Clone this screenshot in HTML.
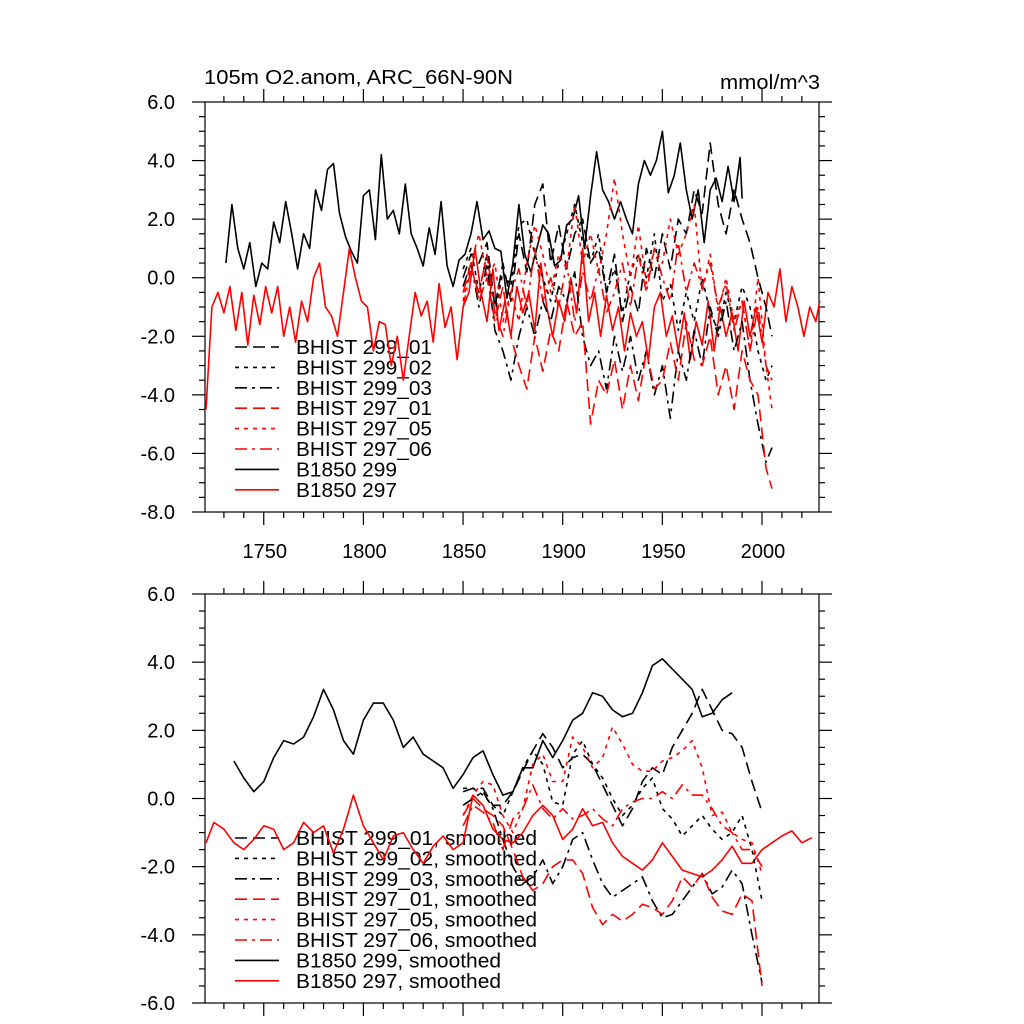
<!DOCTYPE html>
<html><head><meta charset="utf-8"><style>
body{margin:0;background:#fff;}
svg{display:block;font-family:"Liberation Sans",sans-serif;}
</style></head><body>
<svg id="chart" width="1024" height="1024" viewBox="0 0 1024 1024" xmlns="http://www.w3.org/2000/svg">
<text x="204" y="84" font-size="20" textLength="309" lengthAdjust="spacingAndGlyphs">105m O2.anom, ARC_66N-90N</text>
<text x="720" y="89" font-size="20" textLength="100" lengthAdjust="spacingAndGlyphs">mmol/m^3</text>
</svg>
<script>
// ---------- data ----------
const topYTicks = [6, 4, 2, 0, -2, -4, -6, -8];
const topYTickLabels = ["6.0", "4.0", "2.0", "0.0", "-2.0", "-4.0", "-6.0", "-8.0"];
const botYTicks = [6, 4, 2, 0, -2, -4, -6];
const botYTickLabels = ["6.0", "4.0", "2.0", "0.0", "-2.0", "-4.0", "-6.0"];
const xTicks = [1750, 1800, 1850, 1900, 1950, 2000];
const xTickLabels = ["1750", "1800", "1850", "1900", "1950", "2000"];

// raw annual-ish series (top panel)
const years299 = [1731,1734,1737,1740,1743,1746,1749,1752,1755,1758,1761,1764,1767,1770,1773,1776,1779,1782,1785,1788,1791,1794,1797,1800,1803,1806,1809,1812,1815,1818,1821,1824,1827,1830,1833,1836,1839,1842,1845,1848,1851,1854,1857,1860,1863,1866,1869,1872,1875,1878,1881,1884,1887,1890,1893,1896,1899,1902,1905,1908,1911,1914,1917,1920,1923,1926,1929,1932,1935,1938,1941,1944,1947,1950,1953,1956,1959,1962,1965,1968,1971,1974,1977,1980,1983,1986,1989,1990];
const b1850_299 = [0.5,2.5,1.0,0.3,1.2,-0.3,0.5,0.3,1.9,1.2,2.6,1.5,0.3,1.5,1.0,3.0,2.3,3.7,3.9,2.2,1.4,0.9,0.5,2.8,3.0,1.3,4.2,2.0,2.3,1.5,3.2,1.5,1.0,0.4,1.7,0.8,2.6,0.4,-0.3,0.6,0.8,1.5,2.6,1.3,1.6,1.0,0.9,-0.7,0.5,2.5,0.8,0.2,1.0,1.8,1.5,0.4,0.6,1.8,2.0,2.8,1.0,2.8,4.3,3.0,2.6,2.0,2.6,2.0,1.5,3.2,4.0,3.5,4.0,5.0,2.9,3.5,4.6,3.0,2.0,3.0,1.2,3.0,3.4,2.6,3.8,2.6,4.1,2.7];
const years297 = [1721,1724,1727,1730,1733,1736,1739,1742,1745,1748,1751,1754,1757,1760,1763,1766,1769,1772,1775,1778,1781,1784,1787,1790,1793,1796,1799,1802,1805,1808,1811,1814,1817,1820,1823,1826,1829,1832,1835,1838,1841,1844,1847,1850,1853,1856,1859,1862,1865,1868,1871,1874,1877,1880,1883,1886,1889,1892,1895,1898,1901,1904,1907,1910,1913,1916,1919,1922,1925,1928,1931,1934,1937,1940,1943,1946,1949,1952,1955,1958,1961,1964,1967,1970,1973,1976,1979,1982,1985,1988,1991,1994,1997,2000,2003,2006,2009,2012,2015,2018,2021,2024,2027,2029];
const b1850_297 = [-4.5,-1.0,-0.5,-1.2,-0.3,-1.8,-0.5,-2.3,-0.6,-1.6,-0.3,-1.2,-0.3,-2.0,-1.0,-2.2,-0.8,-1.5,0.0,0.5,-1.0,-1.3,-2.0,-0.5,1.0,0.0,-0.8,-1.0,-2.5,-1.5,-1.6,-3.0,-2.0,-3.5,-2.0,-0.5,-1.3,-0.8,-2.2,-0.2,-1.7,-1.0,-2.8,-1.0,-0.5,1.0,-0.5,-1.5,0.3,-1.8,-0.8,-2.0,-0.3,-1.2,-0.5,-1.8,0.5,-1.0,-2.0,-0.8,-1.5,0.0,-1.2,1.0,-1.5,-0.5,-2.0,-0.6,-1.8,-1.0,-2.5,-1.2,-2.0,-1.5,-2.8,-1.0,-0.5,-2.0,-1.3,-2.5,-1.2,-2.8,-1.5,-2.3,-0.8,-2.5,-1.0,-2.0,-1.2,-2.5,-0.8,-2.0,-1.0,-2.2,-0.5,-1.0,0.3,-1.5,-0.3,-1.0,-2.0,-1.0,-1.5,-0.8];
const yearsHist = [1850,1854,1858,1862,1866,1870,1874,1878,1882,1886,1890,1894,1898,1902,1906,1910,1914,1918,1922,1926,1930,1934,1938,1942,1946,1950,1954,1958,1962,1966,1970,1974,1978,1982,1986,1990,1994,1998,2002,2005];
const hist299_01 = [0.0,0.8,0.5,1.2,-1.0,0.5,-0.8,1.5,0.2,2.5,3.2,0.5,1.8,0.3,1.5,2.0,0.5,1.0,-0.5,0.8,-1.5,-0.3,-1.2,1.0,0.0,1.5,0.3,2.0,1.5,3.0,2.2,4.6,2.5,1.5,3.0,2.0,1.2,0.0,-1.0,-2.0];
const hist299_02 = [0.3,1.0,-0.5,0.8,-1.2,0.2,-0.3,1.8,2.0,0.8,0.0,-0.8,0.5,1.5,2.5,1.2,0.5,1.5,-0.5,0.3,-1.2,0.2,0.8,0.0,1.5,-0.8,-0.2,-1.8,-0.5,-1.5,0.0,-1.2,-1.8,-0.5,-1.5,-0.3,-1.0,-2.5,-3.5,-3.0];
const hist299_03 = [-0.3,0.5,-1.0,0.5,-1.8,-2.5,-3.5,-2.0,-1.0,-2.0,-0.8,-1.5,-0.3,-0.8,0.2,-2.0,-3.0,-2.5,-3.8,-2.0,-3.2,-2.0,-3.5,-2.5,-4.0,-3.0,-4.8,-2.5,-3.5,-1.8,-3.0,-1.0,-2.0,-0.8,-2.5,-1.5,-3.5,-5.0,-6.3,-5.8];
const hist297_01 = [-0.5,0.5,-0.8,0.0,-1.5,-0.3,-2.0,-3.0,-3.8,-2.0,-3.2,-1.8,-2.5,-0.8,-2.0,-1.5,-5.0,-3.5,-4.0,-2.8,-4.5,-3.0,-4.2,-2.5,-3.8,-3.5,-2.2,-3.5,-1.5,-2.8,-3.0,-2.0,-4.0,-3.0,-4.5,-2.5,-3.5,-4.0,-6.5,-7.2];
const hist297_05 = [-0.8,0.5,1.5,0.0,0.5,-1.5,-0.5,-1.5,0.5,1.8,0.8,-0.5,0.8,0.3,2.5,0.5,1.5,0.2,1.5,3.4,1.5,0.0,1.8,-0.2,1.0,0.5,2.0,0.8,1.5,2.5,-0.5,0.8,-1.2,0.0,-1.5,-0.8,-2.5,0.0,-3.0,-4.5];
const hist297_06 = [-1.0,0.3,-0.5,0.8,-1.2,-2.0,-0.5,0.3,-1.0,1.0,-0.8,0.0,-1.0,0.5,-1.5,0.2,-0.8,0.3,-1.2,-0.5,0.5,-1.0,0.8,-0.5,1.0,0.0,-0.8,1.2,-0.5,0.5,-0.3,0.5,-1.0,-0.2,-1.8,-0.8,-2.5,-1.0,-3.0,-3.5];

// smoothed series (bottom panel)
const yearsSmHist = [1850,1855,1860,1865,1870,1875,1880,1885,1890,1895,1900,1905,1910,1915,1920,1925,1930,1935,1940,1945,1950,1955,1960,1965,1970,1975,1980,1985,1990,1995,2000];
const sm299_01 = [0.2,0.3,0.3,-0.2,-0.2,0.2,0.8,1.4,1.9,1.5,0.9,1.2,1.3,1.0,0.4,-0.2,-0.8,-0.3,0.5,0.9,0.7,1.5,2.0,2.5,3.2,2.6,2.0,1.9,1.5,0.5,-0.4];
const sm299_02 = [0.3,0.3,0.1,-0.2,-0.5,0.2,0.9,1.4,1.0,-0.1,-0.2,1.3,1.7,1.0,0.6,0.0,-0.5,-0.2,0.3,0.6,-0.3,-0.6,-1.1,-0.8,-0.5,-0.9,-1.2,-1.0,-0.5,-1.5,-3.0];
const sm299_03 = [-0.2,0.0,0.2,-0.3,-1.2,-2.0,-2.5,-2.3,-1.8,-2.5,-2.0,-1.2,-1.0,-1.8,-2.5,-2.9,-2.7,-2.5,-2.3,-3.0,-3.5,-3.4,-3.0,-2.6,-2.2,-2.8,-2.6,-2.1,-2.5,-4.0,-5.4];
const sm297_01 = [-0.5,0.0,-0.3,-0.5,-0.8,-1.5,-2.3,-2.7,-2.5,-2.0,-1.8,-1.8,-2.2,-3.2,-3.7,-3.4,-3.6,-3.4,-3.1,-3.2,-3.4,-3.0,-2.3,-2.6,-2.2,-2.9,-3.3,-3.4,-2.8,-3.0,-5.5];
const sm297_05 = [-0.5,0.1,0.5,0.4,-0.5,-1.0,-0.3,1.0,1.3,0.5,0.5,1.8,1.5,0.9,1.2,2.1,1.6,1.0,0.8,0.8,1.1,1.2,1.4,1.7,0.9,-0.5,-0.4,-1.0,-1.2,-1.3,-2.2];
const sm297_06 = [-0.8,-0.2,-0.4,-0.7,-1.5,-0.6,-0.3,0.4,-0.3,-0.6,-0.3,-0.6,-0.5,-0.3,-0.6,-0.8,-0.3,-0.1,0.0,0.0,0.2,0.0,0.4,0.1,0.1,-0.3,-0.8,-1.0,-1.5,-1.5,-2.0];
const yearsSm299 = [1735,1740,1745,1750,1755,1760,1765,1770,1775,1780,1785,1790,1795,1800,1805,1810,1815,1820,1825,1830,1835,1840,1845,1850,1855,1860,1865,1870,1875,1880,1885,1890,1895,1900,1905,1910,1915,1920,1925,1930,1935,1940,1945,1950,1955,1960,1965,1970,1975,1980,1985];
const smB1850_299 = [1.1,0.6,0.2,0.5,1.2,1.7,1.6,1.8,2.4,3.2,2.6,1.7,1.3,2.3,2.8,2.8,2.3,1.5,1.8,1.3,1.1,0.9,0.3,0.7,1.2,1.4,0.7,0.1,0.2,0.9,0.9,1.7,1.2,1.7,2.3,2.5,3.1,3.0,2.6,2.4,2.5,3.1,3.9,4.1,3.8,3.5,3.2,2.4,2.5,2.9,3.1];
const yearsSm297 = [1721,1725,1730,1735,1740,1745,1750,1755,1760,1765,1770,1775,1780,1785,1790,1795,1800,1805,1810,1815,1820,1825,1830,1835,1840,1845,1850,1855,1860,1865,1870,1875,1880,1885,1890,1895,1900,1905,1910,1915,1920,1925,1930,1935,1940,1945,1950,1955,1960,1965,1970,1975,1980,1985,1990,1995,2000,2005,2010,2015,2020,2025];
const smB1850_297 = [-1.3,-0.7,-0.9,-1.3,-1.5,-1.2,-0.8,-0.9,-1.5,-1.3,-0.7,-1.0,-0.8,-1.6,-0.9,0.1,-0.8,-1.3,-1.8,-1.1,-1.0,-1.5,-1.9,-1.4,-1.1,-1.5,-1.3,0.1,-0.2,-0.9,-1.2,-1.3,-1.0,-0.5,-0.2,-0.5,-1.2,-0.9,-0.3,-0.8,-0.7,-1.3,-1.7,-1.9,-2.1,-1.8,-1.3,-1.7,-2.1,-2.2,-2.3,-2.1,-1.8,-1.4,-1.9,-1.9,-1.5,-1.3,-1.1,-0.95,-1.3,-1.15];

const topLegendLabels = ["BHIST 299_01","BHIST 299_02","BHIST 299_03","BHIST 297_01","BHIST 297_05","BHIST 297_06","B1850 299","B1850 297"];
const topLegendWidths = [136,136,136,136,136,136,101,101];
const botLegendLabels = ["BHIST 299_01, smoothed","BHIST 299_02, smoothed","BHIST 299_03, smoothed","BHIST 297_01, smoothed","BHIST 297_05, smoothed","BHIST 297_06, smoothed","B1850 299, smoothed","B1850 297, smoothed"];
const botLegendWidths = [241,241,241,241,241,241,205,205];

// ---------- drawing ----------
const NS = "http://www.w3.org/2000/svg";
const svg = document.getElementById('chart');
const X0 = 205, X1 = 819;
function xs(yr){ return 762 + (yr - 2000) * 1.993; }
const panels = {
  top: {y0: 102, y1: 512, vmax: 6, vmin: -8},
  bot: {y0: 594, y1: 1003, vmax: 6, vmin: -6}
};
function ys(p, v){ return p.y0 + (p.vmax - v) / (p.vmax - p.vmin) * (p.y1 - p.y0); }
function mk(tag, attrs){ const e = document.createElementNS(NS, tag); for (const k in attrs) e.setAttribute(k, attrs[k]); return e; }

const styles = [
  {stroke:"#000", dash:"12,6"},
  {stroke:"#000", dash:"4,5"},
  {stroke:"#000", dash:"12,5,3,5"},
  {stroke:"#f00", dash:"12,6"},
  {stroke:"#f00", dash:"4,5"},
  {stroke:"#f00", dash:"12,5,3,5"},
  {stroke:"#000", dash:""},
  {stroke:"#f00", dash:""}
];

function drawSeries(p, years, vals, st, name){
  let d = "";
  for (let i = 0; i < vals.length; i++) d += (i ? "L" : "M") + xs(years[i]).toFixed(1) + "," + ys(p, vals[i]).toFixed(1);
  const path = mk('path', {d: d, fill: "none", stroke: st.stroke, "stroke-width": "1.6", "stroke-linejoin": "round"});
  if (st.dash) path.setAttribute('stroke-dasharray', st.dash);
  
  
  svg.appendChild(path);
}

function drawAxes(p, yTicks, yLabels, showXLabels, key){
  const g = mk('g', {stroke: "#000", "stroke-width": "1.2"});
  
  
  svg.appendChild(g);
  g.appendChild(mk('rect', {x: X0, y: p.y0, width: X1 - X0, height: p.y1 - p.y0, fill: "none"}));
  for (let yr = 1730; yr <= 2020; yr += 10) {
    const x = xs(yr), major = (yr % 50 === 0), L = major ? 13 : 6;
    g.appendChild(mk('line', {x1: x, y1: p.y0, x2: x, y2: p.y0 - L}));
    g.appendChild(mk('line', {x1: x, y1: p.y1, x2: x, y2: p.y1 + L}));
  }
  for (let v = p.vmin; v <= p.vmax + 1e-9; v += 0.5) {
    const y = ys(p, v), major = Math.abs(v / 2 - Math.round(v / 2)) < 1e-9, L = major ? 13 : 6;
    g.appendChild(mk('line', {x1: X0, y1: y, x2: X0 - L, y2: y}));
    g.appendChild(mk('line', {x1: X1, y1: y, x2: X1 + L, y2: y}));
  }
  yTicks.forEach((v, i) => {
    const t = mk('text', {x: 175, y: ys(p, v) + 7, "font-size": "20", "text-anchor": "end"});
    t.textContent = yLabels[i];
    
    
    svg.appendChild(t);
  });
  if (showXLabels) {
    xTicks.forEach((yr, i) => {
      const t = mk('text', {x: xs(yr) + 1, y: p.y1 + 46, "font-size": "20", "text-anchor": "middle"});
      t.textContent = xTickLabels[i];
      
      
      svg.appendChild(t);
    });
  }
}

function drawLegend(labels, widths, yStart, key){
  labels.forEach((lab, i) => {
    const y = yStart + i * 20.4, st = styles[i];
    const ln = mk('line', {x1: 235, y1: y, x2: 279, y2: y, stroke: st.stroke, "stroke-width": "1.6"});
    if (st.dash) ln.setAttribute('stroke-dasharray', st.dash);
    
    
    svg.appendChild(ln);
    const t = mk('text', {x: 296, y: y + 7, "font-size": "20", textLength: widths[i], lengthAdjust: "spacingAndGlyphs"});
    t.textContent = lab;
    
    
    svg.appendChild(t);
  });
}

const P = panels.top, B = panels.bot;
drawAxes(P, topYTicks, topYTickLabels, true, 'top');
drawAxes(B, botYTicks, botYTickLabels, false, 'bottom');
drawLegend(topLegendLabels, topLegendWidths, 347, 'top');
drawLegend(botLegendLabels, botLegendWidths, 838, 'bottom');

drawSeries(P, years299, b1850_299, styles[6], 'b1850-299-line');
drawSeries(P, years297, b1850_297, styles[7], 'b1850-297-line');
drawSeries(P, yearsHist, hist299_01, styles[0], 'bhist-299-01-line');
drawSeries(P, yearsHist, hist299_02, styles[1], 'bhist-299-02-line');
drawSeries(P, yearsHist, hist299_03, styles[2], 'bhist-299-03-line');
drawSeries(P, yearsHist, hist297_01, styles[3], 'bhist-297-01-line');
drawSeries(P, yearsHist, hist297_05, styles[4], 'bhist-297-05-line');
drawSeries(P, yearsHist, hist297_06, styles[5], 'bhist-297-06-line');

drawSeries(B, yearsSm299, smB1850_299, styles[6], 'b1850-299-smoothed-line');
drawSeries(B, yearsSm297, smB1850_297, styles[7], 'b1850-297-smoothed-line');
drawSeries(B, yearsSmHist, sm299_01, styles[0], 'bhist-299-01-smoothed-line');
drawSeries(B, yearsSmHist, sm299_02, styles[1], 'bhist-299-02-smoothed-line');
drawSeries(B, yearsSmHist, sm299_03, styles[2], 'bhist-299-03-smoothed-line');
drawSeries(B, yearsSmHist, sm297_01, styles[3], 'bhist-297-01-smoothed-line');
drawSeries(B, yearsSmHist, sm297_05, styles[4], 'bhist-297-05-smoothed-line');
drawSeries(B, yearsSmHist, sm297_06, styles[5], 'bhist-297-06-smoothed-line');
</script>
</body></html>
